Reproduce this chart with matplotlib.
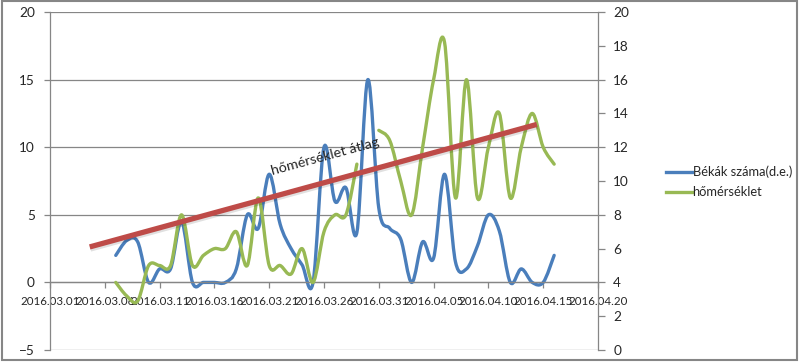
import matplotlib
matplotlib.use("Agg")
import matplotlib.pyplot as plt
import matplotlib.dates as mdates
import matplotlib.patheffects as pe
from matplotlib.path import Path
from matplotlib.patches import PathPatch, Rectangle
from matplotlib.lines import Line2D
import numpy as np
import pandas as pd

# daily readings, 2016.03.07 - 2016.04.16
days = pd.date_range("2016-03-07", "2016-04-16", freq="D")
frogs = [2, 3.1, 3.0, 0, 1, 1, 4.5, 0, 0, 0, 0, 1, 5, 4, 8, 4.3, 2.5, 1.3, 0,
         10, 6, 7, 3.7, 15, 5.5,
         4, 3.2, 0, 3, 1.8, 8, 1.5, 1, 2.7, 5, 3.8, 0, 1, 0, 0, 2]
temps = [4, 3.2, 2.9, 5, 5, 5, 8, 5, 5.6, 6, 6, 7, 5, 9, 5, 5, 4.5, 6, 4,
         7, 8, 8, 11, np.nan, 13,
         12.4, 10, 8, 12, 16, 18.2, 9, 16, 9, 12, 14, 9, 12, 14, 12, 11]

# hand drawn "average" line (right axis units)
avg_dates = ["2016-03-04 15:00", "2016-04-14 10:00"]
avg_vals = [6.1, 13.35]
avg_label = "hőmérséklet átlag"

frog_label = "Békák száma(d.e.)"
temp_label = "hőmérséklet"

blue = "#4A7EBB"
green = "#98B954"
red = "#BE4B48"
grid = "#868686"
txt = "#262626"

plt.rcParams["font.family"] = ["Lato", "DejaVu Sans"]


def smooth_path(x, y):
    # excel-like smoothed line: catmull-rom segments as cubic beziers
    verts, codes = [], []
    x = np.asarray(x, float)
    y = np.asarray(y, float)
    ok = ~np.isnan(y)
    i = 0
    n = len(x)
    while i < n:
        if not ok[i]:
            i += 1
            continue
        j = i
        while j < n and ok[j]:
            j += 1
        px, py = x[i:j], y[i:j]
        m = len(px)
        verts.append((px[0], py[0]))
        codes.append(Path.MOVETO)
        for k in range(m - 1):
            a = max(k - 1, 0)
            d = min(k + 2, m - 1)
            c1 = (px[k] + (px[k + 1] - px[a]) / 6, py[k] + (py[k + 1] - py[a]) / 6)
            c2 = (px[k + 1] - (px[d] - px[k]) / 6, py[k + 1] - (py[d] - py[k]) / 6)
            verts += [c1, c2, (px[k + 1], py[k + 1])]
            codes += [Path.CURVE4] * 3
        i = j
    return Path(verts, codes)


fig = plt.figure(figsize=(8, 3.63), dpi=100)
ax = fig.add_axes([0.0625, 0.0358, 0.685, 0.931])
ax2 = ax.twinx()

xd = mdates.date2num(days)

ax.add_patch(PathPatch(smooth_path(xd, frogs), fill=False, edgecolor=blue,
                       lw=2.4, capstyle="round", joinstyle="round"))
ax2.add_patch(PathPatch(smooth_path(xd, temps), fill=False, edgecolor=green,
                        lw=2.4, capstyle="round", joinstyle="round"))

ax2.plot(pd.to_datetime(avg_dates), avg_vals, color=red, lw=3.8,
         solid_capstyle="butt", zorder=5,
         path_effects=[pe.SimpleLineShadow(offset=(0.5, -1.5), alpha=0.12),
                       pe.Normal()])
ax2.text(pd.Timestamp("2016-03-26 03:00"), 11.45, avg_label, rotation=15.3,
         ha="center", va="center", fontsize=10.3, color=txt, zorder=6)

ax.set_xlim(pd.Timestamp("2016-03-01"), pd.Timestamp("2016-04-20"))
ax.set_ylim(-5, 20)
ax2.set_ylim(0, 20)

ax.set_yticks([-5, 0, 5, 10, 15, 20])
ax2.set_yticks(np.arange(0, 21, 2))
xt = pd.date_range("2016-03-01", "2016-04-20", freq="5D")
ax.set_xticks(xt)
ax.set_xticklabels([d.strftime("%Y.%m.%d") for d in xt])

ax.yaxis.grid(True, color=grid, lw=0.9)
ax.set_axisbelow(True)

ax.spines["top"].set_visible(False)
ax2.spines["top"].set_visible(False)
ax2.spines["bottom"].set_visible(False)
ax2.spines["left"].set_visible(False)
ax.spines["right"].set_visible(False)
ax.spines["bottom"].set_position(("data", 0))
for s in [ax.spines["left"], ax.spines["bottom"], ax2.spines["right"]]:
    s.set_color(grid)
    s.set_linewidth(0.9)

ax.tick_params(axis="y", length=4, width=0.9, color=grid, pad=7,
               labelsize=9.8, labelcolor=txt)
ax.tick_params(axis="x", length=4, width=0.9, color=grid, pad=6,
               labelsize=8.3, labelcolor=txt)
ax2.tick_params(axis="y", length=5, width=0.9, color=grid, pad=6,
                labelsize=9.8, labelcolor=txt)

handles = [Line2D([], [], color=blue, lw=2.4), Line2D([], [], color=green, lw=2.4)]
fig.legend(handles, [frog_label, temp_label], loc="upper left",
           bbox_to_anchor=(0.818, 0.575), frameon=False, fontsize=9.3,
           handlelength=2.0, handletextpad=0.05, labelspacing=0.6,
           labelcolor=txt)

fig.patches.append(Rectangle((0.002, 0.008), 0.994, 0.99, transform=fig.transFigure,
                             fill=False, edgecolor=grid, lw=1.5))

fig.savefig("out.png", dpi=100)
